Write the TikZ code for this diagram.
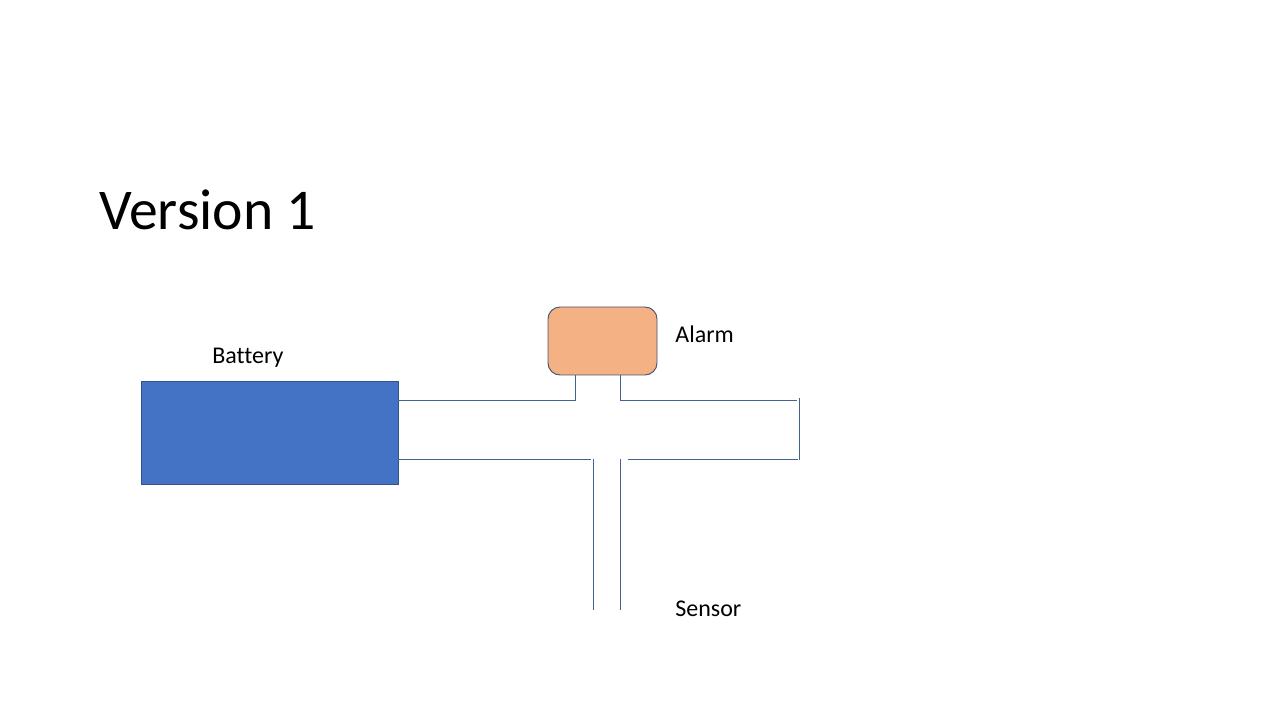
\documentclass[tikz,border=0pt]{standalone}
\usepackage{fontspec}
\setmainfont[Ligatures=NoCommon]{Carlito}
\definecolor{batteryblue}{RGB}{68,114,196}
\definecolor{alarmorange}{RGB}{244,177,131}
\definecolor{edgeblue}{RGB}{52,84,134}
\definecolor{edgegrey}{RGB}{72,84,112}
\definecolor{wireblue}{RGB}{66,100,148}
\tikzset{
  wire/.style={draw=wireblue, line width=0.55pt},
  label/.style={anchor=base west, inner sep=0pt, font=\fontsize{13.66}{16}\selectfont}
}
\begin{document}
\begin{tikzpicture}
\useasboundingbox (0,0) rectangle (25.6,14.4);

% Heading
\node[anchor=base west, inner sep=0pt, font=\fontsize{32.8}{40}\selectfont] (title) at (1.98,9.8) {Version 1};

% Boxes
\node[rectangle, draw=edgeblue, fill=batteryblue, line width=0.55pt, minimum width=5.14cm, minimum height=2.06cm] (battery) at (5.39,5.75) {};
\node[rectangle, draw=edgegrey, fill=alarmorange, line width=0.55pt, rounded corners=0.24cm, minimum width=2.18cm, minimum height=1.36cm] (alarm) at (12.05,7.58) {};

% Labels
\node[label] (batterylabel) at (4.24,7.12) {Battery};
\node[label] (alarmlabel) at (13.5,7.54) {Alarm};
\node[label] (sensorlabel) at (13.5,2.08) {Sensor};

% Wire ends
\coordinate (batterytop) at (battery.east |- 0,6.4);
\coordinate (batterybottom) at (battery.east |- 0,5.22);
\coordinate (alarmleft) at (11.5,6.9);
\coordinate (alarmright) at (12.4,6.9);
\coordinate (righttop) at (15.94,6.4);
\coordinate (cornertop) at (15.98,6.44);
\coordinate (cornerbottom) at (15.98,5.2);
\coordinate (gapleft) at (11.82,5.22);
\coordinate (gapright) at (12.56,5.22);
\coordinate (rightbottom) at (15.96,5.22);
\coordinate (sensorlefttop) at (11.86,5.22);
\coordinate (sensorleftend) at (11.86,2.2);
\coordinate (sensorrighttop) at (12.4,5.22);
\coordinate (sensorrightend) at (12.4,2.2);

% Wires
\draw[wire] (batterytop) -| (alarmleft);
\draw[wire] (alarmright) |- (righttop);
\draw[wire] (cornertop) -- (cornerbottom);
\draw[wire] (batterybottom) -- (gapleft);
\draw[wire] (gapright) -- (rightbottom);
\draw[wire] (sensorlefttop) -- (sensorleftend);
\draw[wire] (sensorrighttop) -- (sensorrightend);
\end{tikzpicture}
\end{document}
